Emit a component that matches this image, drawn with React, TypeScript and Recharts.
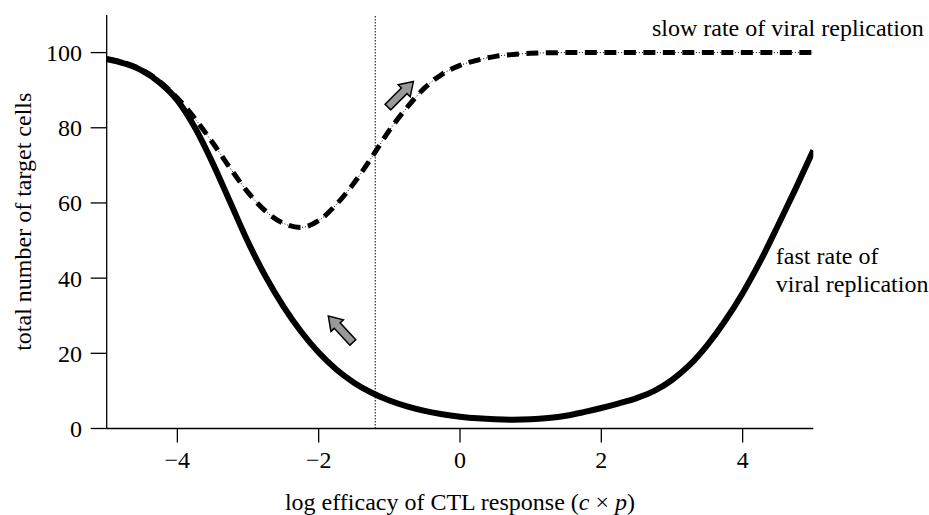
import React from 'react';
import { LineChart, Line, XAxis, YAxis, ReferenceLine, ReferenceDot, Label } from 'recharts';

const xValues = [
  -5, -4.75, -4.5, -4.25, -4, -3.75, -3.5, -3.25, -3, -2.75, -2.5, -2.25, -2, -1.75, -1.5, -1.25,
  -1, -0.75, -0.5, -0.25, 0, 0.25, 0.5, 0.75, 1, 1.25, 1.5, 1.75, 2, 2.25, 2.5, 2.75, 3, 3.25,
  3.5, 3.75, 4, 4.25, 4.5, 4.75, 5,
];

const fastRate = [
  98.3, 97.1, 95.2, 92.0, 87.3, 80.0, 70.6, 60.1, 49.6, 40.4, 32.5, 25.8, 20.2, 15.7, 12.2, 9.5,
  7.45, 5.9, 4.7, 3.8, 3.15, 2.7, 2.45, 2.35, 2.45, 2.8, 3.4, 4.35, 5.45, 6.7, 8.1, 10.0, 12.9, 16.9,
  22.2, 28.6, 36.0, 44.5, 54.0, 63.8, 74.0,
];

const slowRate = [
  98.3, 97.3, 95.4, 92.3, 87.9, 82.4, 76.0, 69.2, 62.8, 57.8, 54.6, 53.5, 55.3, 59.6, 65.3, 72.1,
  79.3, 85.4, 90.6, 94.3, 96.6, 98.0, 99.0, 99.5, 99.8, 99.95, 100, 100, 100, 100, 100, 100, 100, 100,
  100, 100, 100, 100, 100, 100, 100,
];

const xTicks = [-4, -2, 0, 2, 4];
const yTicks = [0, 20, 40, 60, 80, 100];
const thresholdX = -1.2;

const arrowUpRight = { x: -0.84, y: 88.9 };
const arrowUpLeft = { x: -1.69, y: 26.4 };

const slowLabel = { x: 2.717, y: 104.3, text: 'slow rate of viral replication' };
const fastLabel = { x: 4.47, y: 43.7, lines: ['fast rate of', 'viral replication'] };

const xTitle = 'log efficacy of CTL response (';
const yTitle = 'total number of target cells';

const FONT = '"Liberation Serif", "Times New Roman", Times, serif';
const FS = 24;

const data = xValues.map((x, i) => ({ x, fast: fastRate[i], slow: slowRate[i] }));

const fmt = (v: number) => (v < 0 ? '\u2212' + Math.abs(v) : String(v));

const makeArrow = (angle: number) => (props: any) => {
  const { cx, cy } = props;
  const L = 36, sw = 4, hw = 8.5, hl = 13;
  const pts = [
    [-L / 2, -sw], [L / 2 - hl, -sw], [L / 2 - hl, -hw], [L / 2, 0],
    [L / 2 - hl, hw], [L / 2 - hl, sw], [-L / 2, sw],
  ];
  return (
    <polygon
      points={pts.map((p) => p.join(',')).join(' ')}
      transform={`translate(${cx},${cy}) rotate(${angle})`}
      fill="#999999"
      stroke="#000"
      strokeWidth={1.5}
    />
  );
};

const SlowText = (props: any) => (
  <text x={props.cx} y={props.cy} fontFamily={FONT} fontSize={FS} fill="#000">
    {slowLabel.text}
  </text>
);

const FastText = (props: any) => (
  <text x={props.cx} y={props.cy} fontFamily={FONT} fontSize={FS} fill="#000">
    <tspan x={props.cx} dy={0}>{fastLabel.lines[0]}</tspan>
    <tspan x={props.cx} dy={28}>{fastLabel.lines[1]}</tspan>
  </text>
);

const XTitle = (props: any) => {
  const vb = props.viewBox || { x: 106.7, y: 428.5, width: 706.6, height: 70 };
  const cx = vb.x + vb.width / 2;
  return (
    <text x={cx} y={vb.y + 81.5} textAnchor="middle" fontFamily={FONT} fontSize={FS} fill="#000">
      {xTitle}
      <tspan fontStyle="italic">c</tspan>
      {' \u00d7 '}
      <tspan fontStyle="italic">p</tspan>
      {')'}
    </text>
  );
};

const YTitle = (props: any) => {
  const vb = props.viewBox || { x: 26.7, y: 15, width: 80, height: 413.5 };
  const x = 31.4;
  const y = vb.y + vb.height / 2;
  return (
    <text
      x={x}
      y={y}
      textAnchor="middle"
      transform={`rotate(-90, ${x}, ${y})`}
      fontFamily={FONT}
      fontSize={FS}
      fill="#000"
    >
      {yTitle}
    </text>
  );
};

export default function App() {
  return (
    <div style={{ position: 'absolute', left: 0, top: 0, width: 929, height: 515, background: '#fff' }}>
      <LineChart
        width={929}
        height={515}
        data={data}
        margin={{ top: 15, right: 115.7, bottom: 16.5, left: 26.7 }}
      >
        <XAxis
          dataKey="x"
          type="number"
          domain={[-5, 5]}
          ticks={xTicks}
          tickFormatter={fmt}
          tickSize={14}
          tickMargin={8}
          height={70}
          axisLine={{ stroke: '#000', strokeWidth: 1.3 }}
          tickLine={{ stroke: '#000', strokeWidth: 1.3 }}
          tick={{ fill: '#000', fontSize: FS, fontFamily: FONT }}
          allowDataOverflow
        >
          <Label content={XTitle} />
        </XAxis>
        <YAxis
          type="number"
          domain={[0, 110]}
          ticks={yTicks}
          tickSize={16}
          tickMargin={8.7}
          width={80}
          axisLine={{ stroke: '#000', strokeWidth: 1.3 }}
          tickLine={{ stroke: '#000', strokeWidth: 1.3 }}
          tick={{ fill: '#000', fontSize: FS, fontFamily: FONT }}
          allowDataOverflow
        >
          <Label content={YTitle} />
        </YAxis>
        <ReferenceLine x={thresholdX} stroke="#000" strokeWidth={1} strokeDasharray="1.5 1.5" />
        <Line
          type="monotone"
          dataKey="fast"
          stroke="#000"
          strokeWidth={6}
          dot={false}
          activeDot={false}
          isAnimationActive={false}
        />
        <Line
          type="monotone"
          dataKey="slow"
          stroke="#000"
          strokeWidth={1}
          strokeDasharray="1 2"
          dot={false}
          activeDot={false}
          isAnimationActive={false}
        />
        <Line
          type="monotone"
          dataKey="slow"
          stroke="#000"
          strokeWidth={5}
          strokeDasharray="12 7.5"
          dot={false}
          activeDot={false}
          isAnimationActive={false}
        />
        <ReferenceDot x={arrowUpRight.x} y={arrowUpRight.y} r={0} shape={makeArrow(-45)} ifOverflow="visible" />
        <ReferenceDot x={arrowUpLeft.x} y={arrowUpLeft.y} r={0} shape={makeArrow(-133)} ifOverflow="visible" />
        <ReferenceDot x={slowLabel.x} y={slowLabel.y} r={0} shape={SlowText} ifOverflow="visible" />
        <ReferenceDot x={fastLabel.x} y={fastLabel.y} r={0} shape={FastText} ifOverflow="visible" />
      </LineChart>
    </div>
  );
}
